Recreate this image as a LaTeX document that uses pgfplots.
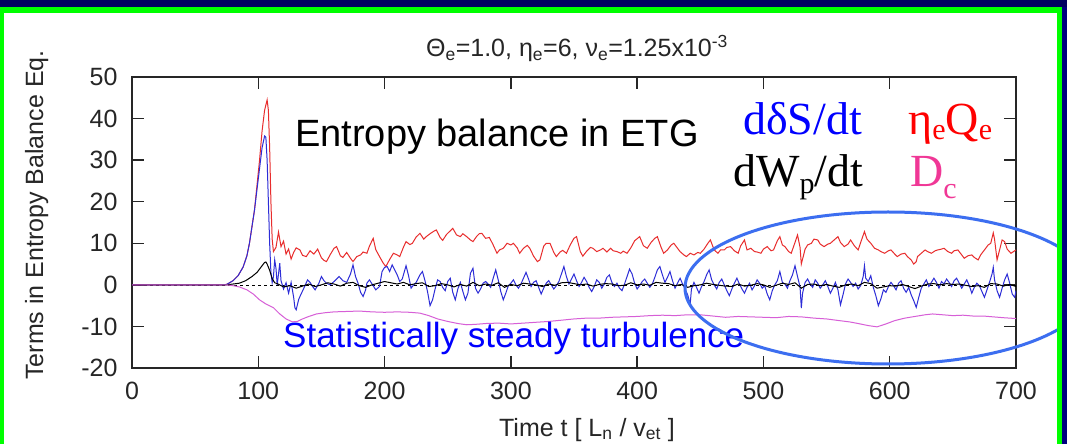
\documentclass[border=0pt]{standalone}
\usepackage{pgfplots}
\pgfplotsset{compat=1.18}
\usepackage{pgfplotstable}
\usepackage{fontspec}
\setmainfont{Liberation Sans}
\newfontfamily\rmserif{Liberation Serif}

\definecolor{qred}{RGB}{232,45,45}
\definecolor{sblue}{RGB}{45,45,215}
\definecolor{dmag}{RGB}{215,95,215}
\definecolor{frameblue}{RGB}{0,0,95}
\definecolor{framegreen}{RGB}{0,255,0}
\definecolor{ringblue}{RGB}{60,110,240}
\definecolor{dcpink}{RGB}{240,55,150}

% eta_e Q_e
\pgfplotstableread{
t v
0 0
70 0
75 0.1
80 1.0
84 2.2
88 4.3
91 7
93 10
95 14
97 18
99 24
101 30
103 37
105 42
107 44.5
108 42
109 33
110 20
111 11
112 8
114 9
116 12.7
118 9.2
120 10.5
122 7.4
124 8.6
126 6.2
128 7.8
130 8.9
133 8.4
135 7.1
138 6.8
141 8.2
144 7.4
147 8.6
150 6.5
152 5.9
154 5.6
157 7.3
160 8.8
162 9.2
165 7.0
167 6.6
170 7.8
173 6.4
175 5.6
178 6.8
181 7.2
183 7.9
186 7.6
188 9.3
191 11.2
193 8.5
196 6.8
199 5.2
201 4.4
204 6.1
207 7.6
210 7.2
212 6.8
215 9.1
217 10.4
220 9.7
222 10.0
225 11.5
228 12.4
231 11.0
233 11.6
236 12.3
239 12.9
241 13.2
244 11.4
246 10.7
249 12.1
252 13.0
254 13.6
257 12.0
260 11.6
262 12.3
265 11.6
268 10.8
270 10.4
273 11.7
275 12.3
277 12.4
280 11.2
283 11.4
286 9.6
289 7.6
291 8.4
294 8.8
297 10.0
300 9.6
302 10.0
305 8.9
307 7.6
310 8.8
313 9.5
315 8.8
318 6.9
321 5.6
323 6.0
326 9.3
328 10.0
331 10.0
334 7.8
336 6.8
339 7.9
341 8.3
344 7.6
347 9.6
350 11.2
352 11.6
355 8.0
357 6.9
360 8.1
363 9.0
365 8.8
368 8.0
371 8.4
373 8.8
376 7.9
379 8.8
381 8.2
384 8.0
387 7.6
389 8.1
392 7.6
395 8.9
398 10.6
402 11.6
405 9.4
408 8.8
411 10.2
414 11.2
416 11.6
419 9.0
421 7.6
424 8.4
427 9.6
429 10.0
431 9.2
434 8.0
437 7.2
439 6.8
442 7.6
445 7.2
448 7.8
450 7.6
453 8.6
456 10.0
458 10.8
461 8.4
464 7.6
466 8.4
469 8.4
471 9.0
474 9.2
477 8.2
480 7.6
482 9.4
485 10.8
487 8.4
490 8.8
493 8.0
495 7.9
498 7.6
500 8.6
503 9.2
506 8.2
508 8.4
511 10.6
513 11.6
515 9.6
517 9.2
520 8.0
522 7.6
525 10.2
527 12.0
529 9.0
530 5.0
533 8.6
535 9.6
538 10.0
540 11.0
543 10.8
545 9.8
548 9.2
551 9.8
553 10.0
556 10.8
559 11.6
561 10.2
564 9.2
567 9.8
569 10.8
572 9.4
575 8.4
577 10.2
580 12.8
582 11.0
585 10.0
588 8.8
591 8.4
593 8.0
596 7.6
599 8.2
601 8.4
604 7.4
606 6.8
609 7.4
612 7.6
614 6.8
617 6.0
619 5.0
621 5.6
622 6.8
625 7.6
628 8.4
630 8.0
633 7.6
636 8.2
638 8.4
641 8.6
643 8.8
646 8.0
649 7.6
651 8.2
654 8.4
656 7.6
659 6.4
662 7.0
665 7.2
667 6.6
670 6.0
672 7.2
675 8.4
678 9.6
680 10.0
682 12.5
683 11.0
685 6.0
687 8.4
689 10.8
691 10.4
693 8.6
696 7.6
698 8.0
700 8.4
}\tabQ

% d(delta S)/dt
\pgfplotstableread{
t v
0 0
70 0
75 0.1
80 1.0
84 2.2
88 4.3
91 7
93 10
95 14
97 18
99 23
101 28
103 33
105 35.8
106 35.5
107 30
108 20
109 10
110 3
111 0.5
112 2
113 6.0
114 4.0
115 0.0
117 5.2
118 1.0
120 -1.0
122 0.5
124 -2.0
126 0.6
128 -3.0
129 -5.5
130 -6.0
132 -3.5
133 -2.8
135 -1.5
137 -0.2
139 1.2
141 0.6
143 -0.4
145 -1.2
148 0.4
150 2.0
152 1.0
154 0.4
157 0.0
160 0.8
162 1.4
164 2.0
167 1.0
170 0.6
173 2.6
175 4.8
177 2.0
179 0.4
181 -1.8
183 -2.8
185 -1.2
186 0.4
188 1.2
191 -0.2
193 -1.2
196 -0.4
198 3.2
200 4.2
202 4.4
204 3.2
206 4.8
208 3.6
210 2.4
212 0.8
214 1.4
217 4.6
219 2.2
221 -0.8
223 0.0
225 0.6
228 2.4
230 3.2
232 1.0
234 -1.6
236 -5.0
238 -3.6
240 -1.0
242 1.2
244 0.8
246 -0.6
248 -1.4
250 0.8
252 1.6
254 -1.8
256 -3.6
258 -1.0
260 0.6
262 -1.6
264 -3.6
266 -2.0
268 2.8
270 4.0
272 -0.8
274 -2.0
276 -1.0
278 0.4
280 0.8
282 0.2
284 -0.6
286 1.6
288 3.6
290 1.2
292 -1.6
294 -3.6
296 -2.0
298 -0.2
300 0.4
302 1.2
304 0.0
306 -0.8
308 0.2
310 1.6
312 3.0
314 1.4
316 -0.4
318 0.6
320 1.0
322 -0.6
324 -2.2
326 -0.8
328 0.4
330 1.0
332 0.0
334 -1.0
336 -0.2
338 0.8
340 2.6
342 4.4
344 2.0
346 0.2
348 1.4
350 2.6
352 1.0
354 -0.4
356 0.6
358 1.8
360 0.8
362 -0.6
364 -1.6
366 -0.4
368 1.2
370 0.6
372 -0.8
374 0.2
376 1.8
378 2.4
380 0.6
382 -0.4
384 0.4
386 -0.8
388 -1.4
390 0.2
392 2.0
394 3.8
396 2.6
398 0.4
400 -1.0
402 -0.2
404 0.8
406 1.4
408 0.4
410 -0.6
412 0.2
414 1.8
416 3.6
418 4.4
420 2.4
422 0.6
424 1.8
426 3.2
428 1.0
430 -0.8
432 0.4
434 1.6
436 0.2
438 -1.0
440 -2.4
442 -4.6
443 -1.0
445 0.6
447 -0.6
449 -2.0
451 -0.4
453 0.8
455 2.4
457 3.6
459 1.2
461 0.0
463 -1.0
465 0.6
467 1.4
469 0.0
471 -1.4
473 -2.6
475 -1.0
477 0.4
479 1.6
481 0.2
483 -1.0
485 -2.0
487 -0.6
489 0.4
491 -1.2
493 -0.2
495 1.2
497 0.4
499 -0.8
501 -0.2
503 -2.2
505 -3.6
507 -1.4
509 0.0
511 1.0
513 3.2
515 0.6
517 0.2
519 -0.8
521 1.0
523 2.4
525 4.6
527 2.0
529 -0.5
530 -5.6
531 -2.0
533 0.6
535 1.4
537 0.2
539 -0.6
541 1.2
543 0.4
545 -0.8
547 0.0
549 1.0
551 -0.4
553 -2.0
555 -0.8
557 0.6
559 -1.2
561 -4.8
563 -2.4
565 0.2
567 1.4
569 0.6
571 -0.4
573 0.4
575 -1.0
577 -0.2
579 2.0
580 4.6
581 1.6
583 0.8
585 2.2
587 -0.6
589 -2.6
591 -5.0
593 -3.4
595 -1.2
597 -1.8
599 -0.4
601 0.6
603 -0.2
605 -1.2
607 0.4
609 1.0
611 -0.8
613 -1.8
615 -0.6
617 -2.4
619 -3.8
621 -5.4
623 -3.0
625 -0.8
627 0.2
629 1.2
631 -0.4
633 0.6
635 1.6
637 0.6
639 -0.8
641 0.8
643 0.2
645 1.4
647 0.6
649 -0.4
651 1.0
653 1.6
655 0.4
657 -0.8
659 0.2
661 1.2
663 -0.2
665 -2.0
667 -0.6
669 0.4
671 -0.2
673 -1.6
675 -3.0
677 -1.2
679 0.6
681 2.6
682 4.2
683 1.2
685 -1.4
687 -3.0
689 -0.8
691 1.2
693 2.6
695 0.4
697 -2.2
699 -3.0
700 -1.4
}\tabS

% dW_p/dt
\pgfplotstableread{
t v
0 0
75 0
80 0.2
85 0.4
90 1.0
95 2.0
99 3.0
102 4.2
105 5.4
106 5.5
107 5.0
109 3.5
111 1.5
113 0.5
115 0.3
120 -0.5
125 -0.2
130 -0.8
135 -0.3
140 0.2
145 -0.4
150 0.0
155 0.5
160 0.2
165 -0.3
170 0.4
175 0.6
180 -0.2
185 -0.6
190 0.0
195 0.4
200 0.8
205 0.5
210 0.2
215 0.6
220 0.0
225 0.3
230 0.5
235 -0.4
240 -0.2
245 0.3
250 0.0
255 -0.5
260 0.1
265 -0.3
270 0.6
275 -0.2
280 0.2
285 -0.1
290 0.5
295 -0.6
300 0.1
305 -0.2
310 0.4
315 0.2
320 0.0
325 -0.4
330 0.2
335 -0.1
340 0.5
345 0.6
350 0.3
355 0.0
360 0.2
365 -0.3
370 0.1
375 0.3
380 0.2
385 -0.2
390 -0.1
395 0.5
400 0.0
405 0.2
410 -0.1
415 0.6
420 0.4
425 0.3
430 -0.2
435 0.1
440 -0.6
445 -0.2
450 0.0
455 0.4
460 0.1
465 -0.1
470 -0.3
475 -0.4
480 0.2
485 -0.3
490 -0.1
495 0.3
500 0.0
505 -0.6
510 -0.1
515 0.4
520 0.1
525 0.5
530 -0.8
535 0.1
540 0.2
545 -0.2
550 0.1
555 -0.3
560 -0.6
565 0.0
570 0.2
575 -0.2
580 0.6
585 0.3
590 -0.8
595 -0.5
600 -0.2
605 -0.3
610 0.1
615 -0.4
620 -0.9
625 -0.3
630 0.2
635 0.3
640 0.0
645 0.3
650 0.1
655 0.2
660 -0.1
665 -0.4
670 -0.2
675 -0.6
680 0.3
685 0.2
690 -0.3
695 0.1
700 -0.4
}\tabW

% D_c
\pgfplotstableread{
t v
0 0
75 0
80 -0.2
85 -0.5
91 -1.2
96 -2.2
101 -3.6
106 -4.6
112 -5.5
117 -7.0
122 -8.2
127 -8.9
131 -8.8
135 -8.2
140 -7.6
146 -7.0
153 -6.7
160 -6.5
170 -6.4
180 -6.3
190 -6.5
200 -6.6
210 -6.5
220 -6.6
228 -6.8
235 -7.4
242 -8.2
250 -8.8
258 -9.3
265 -9.6
272 -9.5
280 -9.3
290 -9.2
300 -9.4
310 -9.2
320 -9.0
330 -8.8
340 -8.5
350 -8.2
360 -8.0
370 -8.0
380 -7.8
390 -7.7
400 -7.6
410 -7.4
420 -7.3
430 -7.4
440 -7.2
450 -7.2
460 -7.5
470 -7.8
480 -7.6
490 -7.7
500 -7.8
510 -7.9
520 -7.6
530 -7.7
540 -8.0
550 -8.2
560 -8.6
568 -8.9
575 -9.3
583 -9.8
590 -10.1
597 -9.4
604 -8.6
612 -8.0
620 -7.6
628 -7.2
634 -7.0
642 -7.2
650 -7.4
658 -7.3
666 -7.5
674 -7.5
682 -7.7
690 -7.9
700 -8.1
}\tabD

\begin{document}
\begin{tikzpicture}[x=1pt,y=1pt]
\path[use as bounding box] (0,0) rectangle (1067,444);
\clip (0,0) rectangle (1067,444);
\fill[white] (0,0) rectangle (1067,444);

\begin{axis}[
  at={(132pt,76pt)}, anchor=south west,
  scale only axis, width=884pt, height=291pt,
  xmin=0, xmax=700, ymin=-20, ymax=50,
  xtick={0,100,...,700}, ytick={-20,-10,...,50},
  tick align=inside,
  major tick length=12pt,
  axis line style={line width=1.3pt, black!85},
  every tick/.style={line width=1.3pt, black!85},
  /pgf/number format/assume math mode=true,
  tick label style={font=\fontsize{25}{25}\selectfont, black!85},
  yticklabel style={xshift=-11pt},
  xticklabel style={yshift=-11pt},
  clip=true,
]
\addplot[black, line width=0.6pt, dash pattern=on 3pt off 3pt] coordinates {(0,0) (700,0)};
\addplot[qred, line width=1pt] table[x=t, y=v] {\tabQ};
\addplot[sblue, line width=1pt] table[x=t, y=v] {\tabS};
\addplot[black, line width=1pt] table[x=t, y=v] {\tabW};
\addplot[dmag, line width=1pt] table[x=t, y=v] {\tabD};
\end{axis}

% title and axis labels
\node[anchor=base, black!85] at (577,387)
  {\fontsize{25}{25}\selectfont Θ\textsubscript{e}=1.0, η\textsubscript{e}=6, ν\textsubscript{e}=1.25x10\textsuperscript{-3}};
\node[anchor=base, rotate=90, black!85] at (43,229)
  {\fontsize{25}{25}\selectfont Terms in Entropy Balance Eq.};
\node[anchor=base, black!85] at (587,8)
  {\fontsize{25}{25}\selectfont Time t [ L\textsubscript{n} / v\textsubscript{et} ]};

% annotations
\node[anchor=base west, inner sep=0pt] at (295,297)
  {\fontsize{38}{38}\selectfont Entropy balance in ETG};
\node[anchor=base west, inner sep=0pt, blue] at (743,309)
  {\rmserif\fontsize{46}{46}\selectfont dδS/dt};
\node[anchor=base west, inner sep=0pt, red] at (908,309)
  {\rmserif\fontsize{46}{46}\selectfont η\raisebox{-5pt}{\fontsize{30}{30}\selectfont e}Q\raisebox{-5pt}{\fontsize{30}{30}\selectfont e}};
\node[anchor=base west, inner sep=0pt, black] at (733,257)
  {\rmserif\fontsize{46}{46}\selectfont dW\raisebox{-7pt}{\fontsize{30}{30}\selectfont p}/dt};
\node[anchor=base west, inner sep=0pt, dcpink] at (910,257)
  {\rmserif\fontsize{46}{46}\selectfont D\raisebox{-12pt}{\fontsize{30}{30}\selectfont c}};
\node[anchor=base west, inner sep=0pt, blue] at (283,96)
  {\fontsize{35}{35}\selectfont Statistically steady turbulence};

\draw[ringblue, line width=3pt] (888,156) ellipse [x radius=203, y radius=76];

% slide frame
\fill[framegreen] (0,0) rectangle (4,437);
\fill[framegreen] (0,431) rectangle (1062,437);
\fill[framegreen] (1057,0) rectangle (1062,437);
\fill[frameblue] (0,437) rectangle (1067,444);
\fill[frameblue!80!blue] (1062,0) rectangle (1067,437);
\end{tikzpicture}
\end{document}
